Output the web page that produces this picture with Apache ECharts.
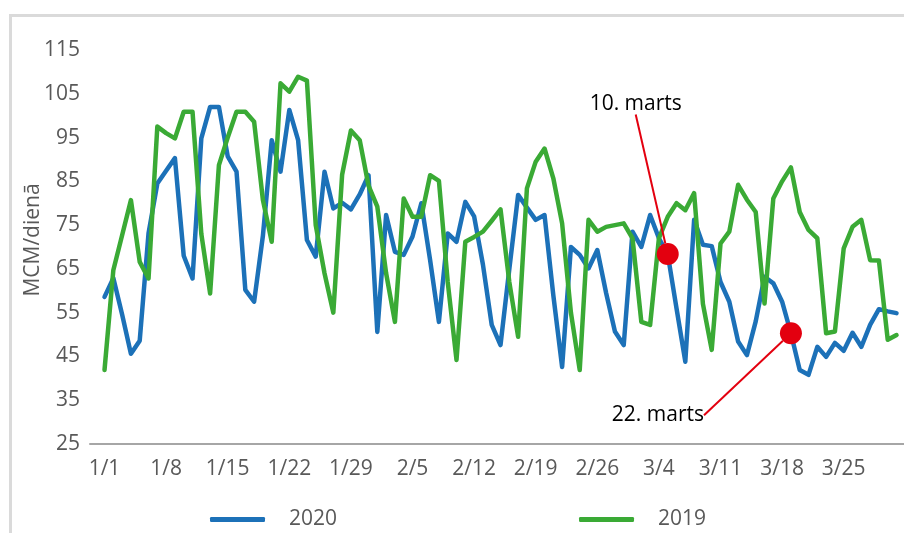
<!DOCTYPE html>
<html>
<head>
<meta charset="utf-8">
<script src="https://cdn.jsdelivr.net/npm/echarts@6/dist/echarts.min.js"></script>
<style>
html, body { margin: 0; padding: 0; background: #fff; overflow: hidden; }
#frame {
  position: absolute; left: 9px; top: 14px; width: 892px; height: 516px;
  border-top: 3px solid #dadada; border-left: 3px solid #dadada;
}
#chart { position: absolute; left: 0; top: 0; width: 904px; height: 533px; }
</style>
</head>
<body>
<div id="frame"></div>
<div id="chart"></div>
<script>
// day index 0 = 1/1
const tickDays = [0, 7, 14, 21, 28, 35, 42, 49, 56, 63, 70, 77, 84];
const tickLabels = ["1/1", "1/8", "1/15", "1/22", "1/29", "2/5", "2/12", "2/19", "2/26", "3/4", "3/11", "3/18", "3/25"];

const y2020 = [
  58.6, 62.9, 54.6, 45.6, 48.6, 73.1, 84.5, 87.4, 90.3, 68, 62.8,
  94.8, 102, 102, 90.7, 87.2, 60.2, 57.5, 72.6, 94.4, 87.2,
  101.3, 94.4, 71.6, 67.8, 87.2, 78.8, 80.1, 78.6, 82, 86.4,
  50.6, 77.3, 68.9, 68.2, 72.4, 80, 67, 52.9, 73.1, 71.2,
  80.3, 77, 66, 52.2, 47.6, 65, 81.9, 79, 76.2, 77.3,
  59, 42.6, 70, 68.2, 65.1, 69.3, 59.5, 50.7, 47.6, 73.5,
  70, 77.3, 72, 68.4, 56, 43.8, 76.2, 70.5, 70.2, 62,
  57.5, 48.4, 45.3, 53, 63.2, 61.7, 57.5, 50.3, 41.9, 40.8,
  47.2, 44.9, 48.1, 46.3, 50.4, 47.2, 52.2, 55.8, 55.3, 54.9
];

const y2019 = [
  41.9, 64.7, 72.7, 80.7, 66.6, 62.8, 97.5, 96, 94.8, 100.9, 100.9,
  73, 59.4, 88.7, 95, 100.9, 100.9, 98.6, 80.7, 71.2, 107.4,
  105.5, 108.9, 108, 75, 64, 55, 86.5, 96.6, 94.4, 84,
  79.2, 64, 52.9, 81.1, 76.9, 76.9, 86.4, 85.1, 62, 44.2,
  71.2, 72.3, 73.5, 76, 78.6, 62, 49.5, 83.4, 89.5, 92.5,
  85.7, 75.4, 55, 41.9, 76.2, 73.5, 74.6, 75, 75.4, 72,
  52.9, 52.2, 72, 76.9, 80, 78.4, 82.3, 57, 46.5, 70.8,
  73.5, 84.2, 80.8, 78, 57.1, 81.1, 85, 88.2, 78, 73.9,
  72, 50.3, 50.7, 69.7, 74.6, 76.2, 67, 66.9, 48.8, 49.9
];

const noteTexts = ["10. marts", "22. marts"];
const noteDays = [64, 78];
const yTitle = "MCM/dienā";

const grey = "#595959";
const font = "'Open Sans', 'Noto Sans', sans-serif";

const chart = echarts.init(document.getElementById("chart"));

const noteShift = [
  { dx: -32, dy: -150 },
  { dx: -133, dy: 82 },
];

chart.setOption({
  animation: false,
  grid: { left: 90, right: 0, top: 50, bottom: 89 },
  graphic: [
    {
      type: "text",
      x: 33,
      y: 240,
      rotation: Math.PI / 2,
      style: {
        text: yTitle,
        fontFamily: font,
        fontSize: 21,
        fill: grey,
        align: "center",
        verticalAlign: "middle",
      },
    },
  ],
  legend: {
    data: ["2020", "2019"],
    left: 205,
    top: 504,
    icon: "roundRect",
    itemWidth: 55,
    itemHeight: 5,
    itemGap: 242,
    textStyle: { fontFamily: font, fontSize: 21, color: grey, padding: [0, 0, 0, 19] },
  },
  xAxis: {
    type: "value",
    min: -1.65,
    max: 90.85,
    axisLine: { show: true, onZero: false, lineStyle: { color: "#a6a6a6", width: 2 } },
    axisTick: { show: false },
    splitLine: { show: false },
    axisLabel: {
      customValues: tickDays,
      formatter: (v) => tickLabels[tickDays.indexOf(v)],
      fontFamily: font,
      fontSize: 21,
      color: grey,
      margin: 15,
    },
  },
  yAxis: {
    type: "value",
    min: 25,
    max: 115,
    interval: 10,
    axisLine: { show: false },
    axisTick: { show: false },
    splitLine: { show: false },
    axisLabel: { fontFamily: font, fontSize: 21, color: grey, margin: 10 },
  },
  series: [
    {
      name: "2020",
      type: "line",
      data: y2020.map((v, i) => [i, v]),
      showSymbol: false,
      itemStyle: { color: "#1c71b8" },
      lineStyle: { width: 4.5, color: "#1c71b8", join: "round", cap: "round" },
    },
    {
      name: "2019",
      type: "line",
      data: y2019.map((v, i) => [i, v]),
      showSymbol: false,
      itemStyle: { color: "#3aaa35" },
      lineStyle: { width: 4.5, color: "#3aaa35", join: "round", cap: "round" },
    },
    {
      name: "notes",
      type: "scatter",
      z: 5,
      symbolSize: 22,
      itemStyle: { color: "#e3000f", opacity: 1 },
      data: noteDays.map((d) => [d, y2020[d]]),
      label: {
        show: true,
        position: "inside",
        formatter: (p) => noteTexts[p.dataIndex],
        fontFamily: font,
        fontSize: 21,
        color: "#000",
      },
      labelLayout: (p) => noteShift[p.dataIndex],
      labelLine: { show: true, lineStyle: { color: "#e3000f", width: 2 } },
    },
  ],
});

window.addEventListener("resize", () => chart.resize());
</script>
</body>
</html>
